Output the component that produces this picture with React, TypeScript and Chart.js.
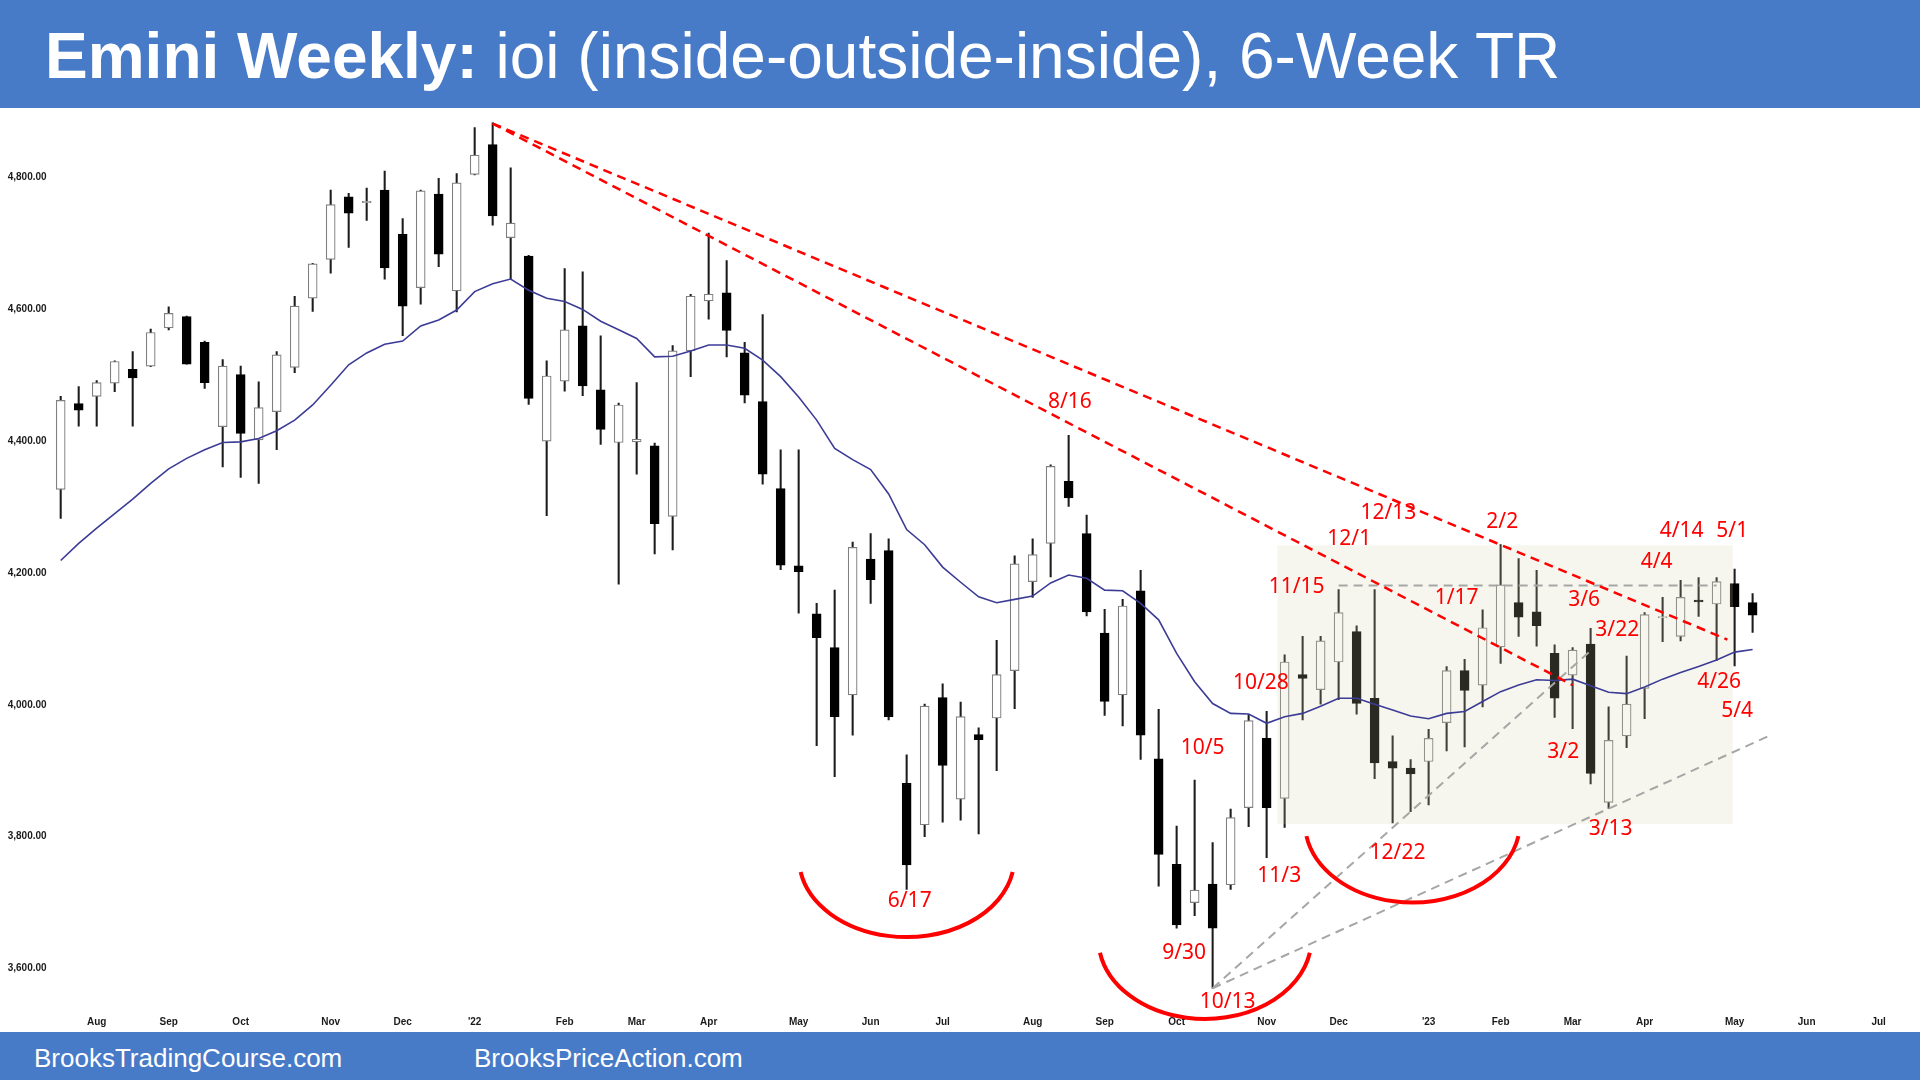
import React, { useEffect, useRef } from "react";
import { Chart, registerables } from "chart.js";

Chart.register(...registerables);

// ---- Weekly OHLC (index 0 = week of 19 Jul 2021 … index 94 = week of 8 May 2023) ----
const opens = [
  4327, 4457, 4468, 4488, 4509, 4514, 4572, 4589, 4550, 4422,
  4501, 4402, 4445, 4512, 4617, 4676, 4771, 4762, 4781, 4714,
  4633, 4775, 4628, 4805, 4850, 4709, 4681, 4400, 4491, 4575,
  4478, 4398, 4399, 4393, 4286, 4537, 4613, 4625, 4534, 4460,
  4328, 4211, 4138, 4087, 4015, 4221, 4234, 3881, 3818, 4011,
  3857, 3955, 3980, 4052, 4187, 4245, 4339, 4260, 4109, 4015,
  4173, 3918, 3758, 3700, 3728, 3727, 3844, 3949, 3858, 4046,
  4023, 4065, 4111, 4010, 3914, 3904, 3914, 3973, 4052, 4030,
  4088, 4155, 4141, 4078, 4045, 4092, 3852, 3953, 4025, 4132,
  4104, 4159, 4153, 4184, 4155,
];
const highs = [
  4468, 4483, 4492, 4522, 4536, 4570, 4604, 4590, 4552, 4524,
  4514, 4490, 4536, 4620, 4670, 4781, 4776, 4784, 4810, 4738,
  4781, 4799, 4806, 4876, 4883, 4815, 4682, 4522, 4662, 4657,
  4560, 4458, 4489, 4397, 4545, 4623, 4716, 4674, 4550, 4592,
  4387, 4387, 4154, 4174, 4247, 4260, 4252, 3924, 4001, 4032,
  4004, 3965, 4098, 4226, 4252, 4364, 4409, 4288, 4145, 4160,
  4204, 3993, 3816, 3886, 3791, 3842, 3985, 3990, 4076, 4104,
  4104, 4175, 4120, 4175, 3953, 3917, 3963, 4058, 4069, 4144,
  4243, 4222, 4204, 4091, 4087, 4116, 3997, 4074, 4140, 4163,
  4189, 4193, 4193, 4206, 4169,
];
const lows = [
  4283, 4423, 4423, 4475, 4423, 4513, 4569, 4517, 4480, 4361,
  4345, 4336, 4387, 4504, 4597, 4655, 4694, 4735, 4646, 4560,
  4608, 4665, 4596, 4804, 4728, 4646, 4456, 4287, 4476, 4469,
  4395, 4183, 4350, 4229, 4235, 4498, 4585, 4528, 4458, 4335,
  4205, 4139, 3938, 3891, 3954, 4154, 3977, 3720, 3800, 3822,
  3825, 3804, 3900, 3994, 4163, 4194, 4301, 4135, 3984, 3968,
  3917, 3725, 3661, 3680, 3570, 3720, 3815, 3768, 3814, 3977,
  4001, 4008, 3986, 3888, 3821, 3838, 3848, 3930, 3936, 3997,
  4063, 4104, 4089, 3981, 3964, 3880, 3843, 3935, 3979, 4096,
  4097, 4134, 4067, 4059, 4110,
];
const closes = [
  4462, 4447, 4489, 4521, 4496, 4565, 4594, 4517, 4489, 4514,
  4412, 4451, 4531, 4605, 4669, 4759, 4746, 4764, 4663, 4605,
  4780, 4684, 4792, 4834, 4742, 4731, 4465, 4499, 4569, 4484,
  4418, 4455, 4403, 4275, 4537, 4620, 4623, 4568, 4470, 4350,
  4212, 4202, 4102, 3982, 4239, 4190, 3982, 3757, 3998, 3908,
  3982, 3947, 4046, 4214, 4228, 4362, 4314, 4141, 4005, 4150,
  3954, 3773, 3666, 3719, 3661, 3829, 3976, 3844, 4065, 4040,
  4097, 4140, 4002, 3912, 3904, 3895, 3949, 4052, 4022, 4117,
  4182, 4133, 4120, 4010, 4083, 3896, 3946, 4001, 4137, 4134,
  4163, 4156, 4187, 4149, 4136,
];
// 20-week moving average (blue line)
const ma20 = [
  4219, 4245, 4268, 4290, 4312, 4336, 4358, 4374, 4387, 4398,
  4399, 4404, 4416, 4432, 4455, 4485, 4516, 4534, 4547, 4552,
  4575, 4584, 4599, 4627, 4639, 4646, 4629, 4617, 4612, 4600,
  4582, 4569, 4556, 4528, 4529, 4537, 4546, 4546, 4541, 4523,
  4498, 4467, 4432, 4389, 4372, 4357, 4320, 4266, 4243, 4209,
  4186, 4164, 4155, 4160, 4165, 4185, 4197, 4192, 4174, 4173,
  4154, 4129, 4078, 4035, 4002, 3987, 3986, 3972, 3982, 3987,
  3998, 4010, 4010, 4001, 3992, 3983, 3979, 3987, 3990, 4005,
  4020, 4030, 4038, 4037, 4039, 4029, 4019, 4017, 4027, 4039,
  4049, 4058, 4068, 4080, 4084,
];

// ---- Axes ----
const monthTickIdx = [2, 6, 10, 15, 19, 23, 28, 32, 36, 41, 45, 49, 54, 58, 62, 67, 71, 76, 80, 84, 88, 93, 97, 101];
const monthTickLabels = ["Aug", "Sep", "Oct", "Nov", "Dec", "'22", "Feb", "Mar", "Apr", "May", "Jun", "Jul",
  "Aug", "Sep", "Oct", "Nov", "Dec", "'23", "Feb", "Mar", "Apr", "May", "Jun", "Jul"];
const priceTicks = [3600, 3800, 4000, 4200, 4400, 4600, 4800];

// ---- Drawn lines (week index, price) ----
const bearLineOuterIdx = [24, 92.6];
const bearLineOuterPrice = [4882, 4099];
const bearLineInnerIdx = [24, 84];
const bearLineInnerPrice = [4882, 4030];
const rangeTopIdx = [71, 92];
const rangeTopPrice = [4181, 4181];
const bullLineSteepIdx = [64, 85];
const bullLineSteepPrice = [3570, 4082];
const bullLineFlatIdx = [64, 95];
const bullLineFlatPrice = [3570, 3954];

// Trading range box
const rangeBoxIdx = [67.6, 92.9];
const rangeBoxPrice = [3819, 4242];

// Bottom arcs
const arcCenterIdx = [47, 75.1, 63.57];
const arcCenterPrice = [3767, 3822, 3645];
const arcHalfWidthIdx = [5.98, 5.98, 5.92];
const arcDepthPrice = [119.4, 122, 121.6];

// Date notes
const noteTexts = ["8/16", "6/17", "12/13", "12/1", "2/2", "4/14", "5/1", "4/4", "11/15", "1/17", "3/6",
  "3/22", "10/28", "4/26", "5/4", "10/5", "3/2", "3/13", "12/22", "11/3", "9/30", "10/13"];
const noteIdx = [56.07, 47.17, 73.76, 71.59, 80.09, 90.06, 92.87, 88.67, 68.67, 77.56, 84.64,
  86.48, 66.68, 92.14, 93.14, 63.44, 83.48, 86.11, 74.27, 67.7, 62.42, 64.83];
const notePrice = [4460, 3702, 4291, 4252, 4278, 4264, 4264, 4216, 4179, 4162, 4159,
  4114, 4033, 4034, 3991, 3935, 3929, 3811, 3775, 3741, 3623, 3549];

const BODY_INDEX = 1;

const pts = (xs: number[], ys: number[]) => xs.map((x, i) => ({ x, y: ys[i] }));

const overlayPlugin = {
  id: "overlay",
  afterDatasetDraw(chart: any, args: any) {
    if (args.index !== BODY_INDEX) return;
    const { ctx, scales } = chart;
    const x = scales.x, y = scales.y;
    const x0 = x.getPixelForValue(rangeBoxIdx[0]);
    const x1 = x.getPixelForValue(rangeBoxIdx[1]);
    const y0 = y.getPixelForValue(rangeBoxPrice[1]);
    const y1 = y.getPixelForValue(rangeBoxPrice[0]);
    ctx.save();
    ctx.fillStyle = "rgba(208,212,172,0.2)";
    ctx.fillRect(x0, y0, x1 - x0, y1 - y0);
    ctx.restore();
  },
  afterDraw(chart: any) {
    const { ctx, scales } = chart;
    const x = scales.x, y = scales.y;
    ctx.save();
    ctx.strokeStyle = "#ff0000";
    ctx.lineWidth = 4;
    const a0 = (10 * Math.PI) / 180;
    for (let i = 0; i < arcCenterIdx.length; i++) {
      const cx = x.getPixelForValue(arcCenterIdx[i]);
      const cy = y.getPixelForValue(arcCenterPrice[i]);
      const rx = x.getPixelForValue(arcCenterIdx[i] + arcHalfWidthIdx[i]) - cx;
      const ry = y.getPixelForValue(arcCenterPrice[i] - arcDepthPrice[i]) - cy;
      ctx.beginPath();
      ctx.ellipse(cx, cy, rx, ry, 0, a0, Math.PI - a0);
      ctx.stroke();
    }
    ctx.fillStyle = "#ff0000";
    ctx.font = "21px 'Noto Sans', 'Open Sans', sans-serif";
    ctx.textAlign = "center";
    ctx.textBaseline = "middle";
    for (let i = 0; i < noteTexts.length; i++) {
      ctx.fillText(noteTexts[i], x.getPixelForValue(noteIdx[i]), y.getPixelForValue(notePrice[i]));
    }
    ctx.restore();
  },
};

export default function App() {
  const ref = useRef<HTMLCanvasElement | null>(null);

  useEffect(() => {
    if (!ref.current) return;
    const bull = closes.map((c, i) => c >= opens[i]);
    const chart = new Chart(ref.current, {
      type: "bar",
      data: {
        datasets: [
          {
            type: "bar",
            label: "wick",
            data: highs.map((h, i) => ({ x: i, y: [lows[i], h] })) as any,
            backgroundColor: "#1c1c1c",
            borderWidth: 0,
            barThickness: 1.4,
            grouped: false,
            order: 6,
          } as any,
          {
            type: "bar",
            label: "body",
            data: opens.map((o, i) => ({ x: i, y: [o, closes[i]] })) as any,
            backgroundColor: bull.map((b) => (b ? "#ffffff" : "#000000")),
            borderColor: bull.map((b) => (b ? "#7f7f7f" : "#000000")),
            borderWidth: 1.2,
            borderSkipped: false,
            barThickness: 9,
            grouped: false,
            order: 5,
          } as any,
          {
            type: "line",
            label: "ma",
            data: ma20.map((v, i) => ({ x: i, y: v })),
            borderColor: "#3c3c96",
            borderWidth: 1.6,
            pointRadius: 0,
            tension: 0,
            order: 4,
          },
          {
            type: "line",
            label: "rangeTop",
            data: pts(rangeTopIdx, rangeTopPrice),
            borderColor: "#a6a6a6",
            borderWidth: 2,
            borderDash: [9, 6],
            pointRadius: 0,
            order: 3,
          },
          {
            type: "line",
            label: "bullSteep",
            data: pts(bullLineSteepIdx, bullLineSteepPrice),
            borderColor: "#a6a6a6",
            borderWidth: 2,
            borderDash: [9, 6],
            pointRadius: 0,
            order: 3,
          },
          {
            type: "line",
            label: "bullFlat",
            data: pts(bullLineFlatIdx, bullLineFlatPrice),
            borderColor: "#a6a6a6",
            borderWidth: 2,
            borderDash: [9, 6],
            pointRadius: 0,
            order: 3,
          },
          {
            type: "line",
            label: "bearOuter",
            data: pts(bearLineOuterIdx, bearLineOuterPrice),
            borderColor: "#ff0000",
            borderWidth: 2.5,
            borderDash: [9, 6],
            pointRadius: 0,
            order: 1,
          },
          {
            type: "line",
            label: "bearInner",
            data: pts(bearLineInnerIdx, bearLineInnerPrice),
            borderColor: "#ff0000",
            borderWidth: 2.5,
            borderDash: [9, 6],
            pointRadius: 0,
            order: 1,
          },
        ],
      },
      options: {
        responsive: false,
        animation: false,
        devicePixelRatio: 1,
        layout: { padding: { left: 0, right: 18, top: 108, bottom: 48 } },
        plugins: { legend: { display: false }, tooltip: { enabled: false } },
        scales: {
          x: {
            type: "linear",
            offset: false,
            min: -0.45,
            max: 102.3,
            grid: { display: false, drawTicks: false, offset: false },
            border: { display: false },
            afterBuildTicks: (s: any) => {
              s.ticks = monthTickIdx.map((v) => ({ value: v }));
            },
            afterFit: (s: any) => {
              s.height = 24;
              s.paddingLeft = 0;
              s.paddingRight = 0;
            },
            ticks: {
              autoSkip: false,
              maxRotation: 0,
              padding: 8,
              color: "#1a1a1a",
              font: { family: "'Liberation Sans', Arial, sans-serif", size: 10, weight: "bold" },
              callback: (_v: any, i: number) => monthTickLabels[i],
            },
          },
          y: {
            type: "linear",
            min: 3540,
            max: 4905.6,
            grid: { display: false, drawTicks: false },
            border: { display: false },
            afterBuildTicks: (s: any) => {
              s.ticks = priceTicks.map((v) => ({ value: v }));
            },
            afterFit: (s: any) => {
              s.width = 52.6;
            },
            ticks: {
              padding: 6,
              color: "#1a1a1a",
              font: { family: "'Liberation Sans', Arial, sans-serif", size: 10, weight: "bold" },
              callback: (v: any) =>
                Number(v).toLocaleString("en-US", { minimumFractionDigits: 2, maximumFractionDigits: 2 }),
            },
          },
        },
      } as any,
      plugins: [overlayPlugin],
    });
    return () => chart.destroy();
  }, []);

  const blue = "rgb(71,122,199)";
  return (
    <div style={{ position: "absolute", left: 0, top: 0, width: 1920, height: 1080, background: "#fff", overflow: "hidden" }}>
      <canvas ref={ref} width={1920} height={1080} style={{ position: "absolute", left: 0, top: 0, width: 1920, height: 1080 }} />
      <div style={{ position: "absolute", left: 0, top: 0, width: 1920, height: 108, background: blue }}>
        <div
          style={{
            position: "absolute",
            left: 45,
            top: 24,
            fontFamily: "'Liberation Sans', Arial, sans-serif",
            fontSize: 64,
            lineHeight: "64px",
            color: "#fff",
            whiteSpace: "nowrap",
          }}
        >
          <b>Emini Weekly:</b> ioi (inside-outside-inside), 6-Week TR
        </div>
      </div>
      <div style={{ position: "absolute", left: 0, top: 1032, width: 1920, height: 48, background: blue }}>
        <div
          style={{
            position: "absolute",
            left: 34,
            top: 13,
            fontFamily: "'Liberation Sans', Arial, sans-serif",
            fontSize: 26,
            lineHeight: "26px",
            color: "#fff",
            whiteSpace: "nowrap",
          }}
        >
          BrooksTradingCourse.com
        </div>
        <div
          style={{
            position: "absolute",
            left: 474,
            top: 13,
            fontFamily: "'Liberation Sans', Arial, sans-serif",
            fontSize: 26,
            lineHeight: "26px",
            color: "#fff",
            whiteSpace: "nowrap",
          }}
        >
          BrooksPriceAction.com
        </div>
      </div>
    </div>
  );
}
